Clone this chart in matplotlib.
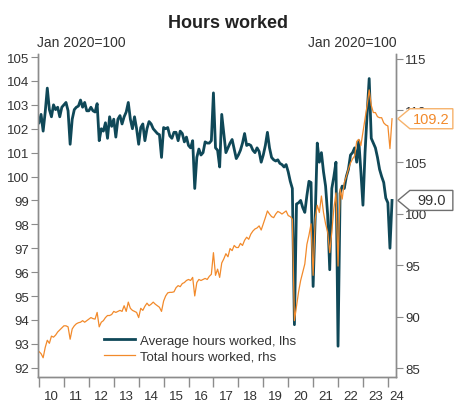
import numpy as np
import matplotlib.pyplot as plt
from matplotlib.patches import Polygon
from matplotlib.transforms import IdentityTransform

plt.rcParams['font.family'] = ['Liberation Sans', 'DejaVu Sans']

# monthly data, Jan 2010 - Mar 2024, index Jan 2020 = 100
avg_hours = [
    102.25, 102.6, 101.9, 102.7, 103.7, 102.8, 102.5, 103.0, 102.8, 102.9, 102.5, 102.9,      # 2010
    103.0, 103.1, 102.75, 101.35, 102.4, 102.8, 102.9, 102.95, 103.2, 102.9, 103.1, 102.75,   # 2011
    102.75, 102.9, 102.75, 102.7, 103.05, 101.5, 102.0, 101.9, 102.25, 101.6, 102.5, 102.1,   # 2012
    102.4, 101.65, 102.4, 102.55, 102.2, 102.5, 102.7, 103.1, 102.4, 102.0, 102.5, 102.0,     # 2013
    101.35, 102.05, 102.2, 101.5, 102.0, 102.3, 102.2, 102.0, 101.9, 101.8, 101.75, 100.8,    # 2014
    102.05, 102.0, 102.05, 101.7, 101.6, 101.85, 101.85, 101.5, 101.9, 101.8, 101.45, 101.65, # 2015
    101.3, 101.2, 101.5, 99.5, 100.8, 101.15, 100.9, 101.0, 101.45, 101.4, 101.4, 101.5,      # 2016
    103.5, 101.2, 101.1, 100.4, 102.6, 101.8, 101.0, 101.2, 101.4, 101.55, 101.15, 100.75,    # 2017
    100.9, 101.1, 101.4, 101.8, 101.3, 101.35, 101.3, 101.1, 101.0, 101.2, 101.05, 100.6,     # 2018
    100.9, 101.3, 101.85, 101.2, 100.8, 100.7, 100.65, 100.7, 100.55, 100.5, 100.4, 100.5,    # 2019
    100.2, 99.8, 99.5, 93.8, 98.85, 98.9, 99.0, 98.7, 98.5, 99.2, 99.8, 99.75,                # 2020
    95.4, 98.3, 101.4, 100.6, 101.0, 100.2, 99.6, 98.4, 96.1, 99.5, 100.0, 100.6,             # 2021
    92.9, 99.3, 99.6, 99.5, 100.0, 100.3, 100.9, 101.0, 101.2, 100.6, 101.5, 100.2,           # 2022
    98.8, 101.0, 102.6, 104.1, 101.6, 101.4, 101.2, 100.8, 100.3, 100.0, 99.75, 99.1,         # 2023
    98.9, 97.0, 99.0,                                                                         # 2024
]

total_hours = [
    86.6, 86.4, 86.0, 87.0, 87.7, 87.4, 88.1, 88.0, 88.2, 88.5, 88.7, 88.9,            # 2010
    89.1, 89.1, 89.0, 87.8, 88.8, 89.1, 89.3, 89.4, 89.45, 89.6, 89.45, 89.6,          # 2011
    89.75, 89.9, 89.8, 89.75, 90.4, 89.0, 89.45, 89.6, 89.9, 90.1, 90.1, 90.2,         # 2012
    90.5, 90.4, 90.5, 90.6, 90.5, 91.05, 90.5, 91.4, 90.8, 90.6, 90.5, 90.4,           # 2013
    89.9, 90.8, 90.6, 91.0, 91.3, 91.05, 91.2, 91.4, 91.2, 91.05, 90.9, 90.5,          # 2014
    91.5, 92.0, 92.3, 92.35, 92.35, 92.4, 92.8, 93.0, 92.9, 93.2, 93.3, 93.5,          # 2015
    93.6, 93.5, 93.8, 92.0, 93.3, 93.6, 93.5, 93.6, 93.7, 93.6, 93.9, 94.1,            # 2016
    96.2, 94.0, 94.6, 93.8, 95.2, 95.6, 96.1, 95.8, 96.6, 96.4, 96.9, 96.7,            # 2017
    96.7, 97.1, 96.9, 97.4, 97.7, 97.5, 98.0, 98.3, 98.5, 98.6, 98.8, 98.4,            # 2018
    99.0, 99.6, 100.25, 99.95, 99.7, 99.6, 99.95, 100.2, 100.1, 99.95, 100.1, 100.25,  # 2019
    99.8, 99.7, 99.45, 89.6, 91.0, 92.4, 93.5, 94.3, 95.1, 97.0, 97.9, 99.0,           # 2020
    94.0, 99.5, 100.8, 100.1, 101.7, 100.1, 99.0, 98.2, 96.2, 98.2, 100.5, 102.0,      # 2021
    94.9, 102.4, 101.4, 103.0, 103.6, 104.3, 104.9, 105.3, 105.6, 107.0, 107.2, 106.6, # 2022
    107.9, 109.2, 110.5, 112.0, 110.5, 109.8, 109.8, 109.4, 109.3, 109.3, 108.8, 108.6, # 2023
    108.5, 106.3, 109.2,                                                               # 2024
]

years = list(range(2010, 2025))
year_labels = [str(y)[2:] for y in years]

dark = "#0f4858"
orange = "#f28a2b"
grey = "#8c8c8c"
txt = "#333333"

x = 2010 + np.arange(len(avg_hours)) / 12

fig = plt.figure(figsize=(4.55, 4.10), dpi=100)
ax = fig.add_axes([0.0835, 0.078, 0.7865, 0.788])
ax2 = ax.twinx()

l1, = ax.plot(x, avg_hours, color=dark, lw=2.0)
l2, = ax2.plot(x, total_hours, color=orange, lw=0.9)

ax.set_xlim(2009.96, 2024.32)
ax.set_ylim(91.61, 105.13)
ax2.set_ylim(84.13, 115.49)
ax.set_yticks(range(92, 106))
ax2.set_yticks(range(85, 116, 5))

for a in (ax, ax2):
    a.spines['top'].set_visible(False)
    for s in ('left', 'right', 'bottom'):
        a.spines[s].set_color(grey)
        a.spines[s].set_linewidth(1)
    a.tick_params(axis='y', colors=grey, labelcolor=txt, labelsize=9.5, length=5, pad=1.5)

# year ticks at year start, labels mid-year
ax.set_xticks(years)
ax.set_xticklabels([])
ax.tick_params(axis='x', colors=grey, length=7, width=1)
for yr, lab in zip(years, year_labels):
    ax.text(min(yr + 0.5, 2024.36), -0.04, lab, transform=ax.get_xaxis_transform(),
            ha='center', va='top', fontsize=9.5, color=txt, clip_on=False)

fig.text(0.5, 1 - 23 / 410, "Hours worked", ha='center', va='center',
         fontsize=13, fontweight='bold', color='#222222')
fig.text(37 / 455, 1 - 43 / 410, "Jan 2020=100", ha='left', va='center', fontsize=10, color=txt)
fig.text(397 / 455, 1 - 43 / 410, "Jan 2020=100", ha='right', va='center', fontsize=10, color=txt)

ax2.legend([l1, l2], ["Average hours worked, lhs", "Total hours worked, rhs"],
           loc='lower left', bbox_to_anchor=(0.185, 0.045), frameon=False,
           fontsize=9.5, handlelength=2.3, handletextpad=0.4, labelspacing=0.25,
           borderaxespad=0, borderpad=0, labelcolor=txt)


def value_tag(axis, value, edge, tcolor):
    xs = axis.transAxes.transform((1, 0))[0]
    ys = axis.transData.transform((0, value))[1]
    pts = [(xs + 2, ys), (xs + 14, ys + 10), (xs + 57, ys + 10),
           (xs + 57, ys - 10), (xs + 14, ys - 10)]
    fig.add_artist(Polygon(pts, closed=True, transform=IdentityTransform(),
                           facecolor='white', edgecolor=edge, lw=1, zorder=10))
    fig.text(xs + 35.5, ys, f"{value:.1f}", transform=IdentityTransform(),
             ha='center', va='center', fontsize=10.5, color=tcolor, zorder=11)


value_tag(ax2, total_hours[-1], "#f6b26b", orange)
value_tag(ax, avg_hours[-1], "#6f6f6f", txt)

fig.savefig("out.png", dpi=100)
